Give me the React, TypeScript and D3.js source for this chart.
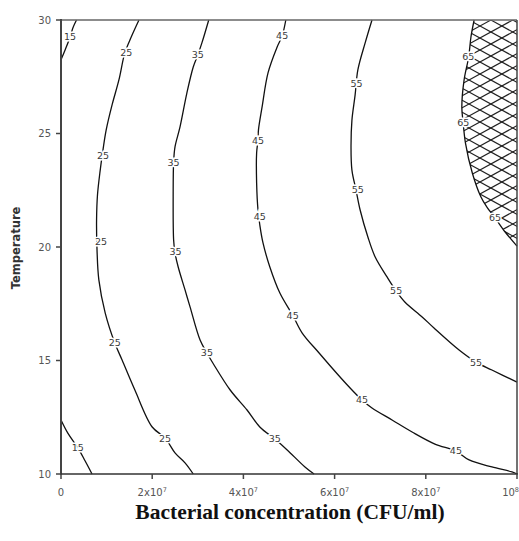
import React, { useEffect } from 'react';
import * as d3 from 'd3';

// Bacterial concentration in units of 10^7 CFU/ml, temperature in °C
const xTicks = [0, 2, 4, 6, 8, 10];
const xTickLabels: [string, string][] = [["0", ""], ["2x10", "7"], ["4x10", "7"], ["6x10", "7"], ["8x10", "7"], ["10", "8"]];
const yTicks = [10, 15, 20, 25, 30];

const contour15a = [[0.34, 30], [0.26, 29.65], [0.2, 29.25], [0.09, 28.68], [0, 28.25]];
const contour15b = [[0, 12.38], [0.15, 11.8], [0.37, 11.15], [0.53, 10.57], [0.68, 10]];
const contour25 = [[1.71, 30], [1.54, 29.25], [1.4, 28.55], [1.27, 27.36], [1.12, 26.26], [0.99, 25.15], [0.92, 24.27], [0.86, 23.39], [0.8, 22.29], [0.78, 21.19], [0.79, 19.87], [0.83, 18.55], [0.97, 17.09], [1.18, 15.77], [1.34, 15.02], [1.62, 13.7], [2.0, 12.07], [2.28, 11.59], [2.5, 10.93], [2.72, 10.49], [2.9, 10]];
const contour35 = [[3.24, 30], [3.09, 28.99], [3.0, 28.46], [2.9, 27.93], [2.76, 26.78], [2.61, 25.29], [2.5, 24.41], [2.47, 23.74], [2.46, 22.38], [2.47, 20.31], [2.5, 19.74], [2.57, 19.12], [2.72, 18.11], [2.83, 17.36], [3.05, 15.9], [3.2, 15.33], [3.33, 14.89], [3.71, 13.7], [4.08, 12.82], [4.36, 12.07], [4.69, 11.54], [4.96, 11.06], [5.35, 10.31], [5.55, 10]];
const contour45 = [[4.93, 30], [4.85, 29.3], [4.74, 28.81], [4.54, 27.67], [4.41, 26.17], [4.33, 25.15], [4.32, 24.71], [4.29, 24.14], [4.29, 22.82], [4.32, 21.63], [4.36, 20.97], [4.43, 20.18], [4.58, 19.12], [4.8, 17.97], [5.09, 16.96], [5.29, 16.21], [5.66, 15.33], [6.08, 14.36], [6.32, 13.83], [6.6, 13.26], [6.82, 12.91], [7.26, 12.38], [7.7, 11.85], [8.2, 11.32], [8.66, 11.01], [8.95, 10.62], [9.45, 10.31], [9.89, 10.09], [10, 10]];
const contour55 = [[6.82, 30], [6.67, 28.99], [6.51, 27.8], [6.45, 26.7], [6.38, 25.59], [6.36, 24.41], [6.38, 23.39], [6.47, 22.51], [6.56, 21.63], [6.73, 20.44], [6.89, 19.56], [7.15, 18.68], [7.35, 18.06], [7.54, 17.58], [7.92, 16.92], [8.18, 16.43], [8.73, 15.46], [9.1, 14.93], [9.45, 14.58], [10, 14.05]];
const contour65 = [[9.06, 30], [8.99, 29.25], [8.94, 28.37], [8.84, 27.36], [8.79, 26.17], [8.82, 25.46], [8.87, 24.58], [9.02, 23.26], [9.21, 22.2], [9.34, 21.76], [9.52, 21.28], [9.74, 20.66], [10, 20.04]];

const contourLines = [contour15a, contour15b, contour25, contour35, contour45, contour55, contour65];

const labelText = ["15", "15", "25", "25", "25", "25", "25", "35", "35", "35", "35", "35", "45", "45", "45", "45", "45", "45", "55", "55", "55", "55", "65", "65", "65"];
const labelPos = [
  [0.2, 29.25], [0.37, 11.15],
  [1.43, 28.55], [0.92, 24.01], [0.88, 20.26], [1.18, 15.77], [2.28, 11.54],
  [3.0, 28.46], [2.47, 23.74], [2.51, 19.78], [3.2, 15.33], [4.69, 11.54],
  [4.85, 29.3], [4.32, 24.71], [4.36, 21.32], [5.08, 16.96], [6.6, 13.26], [8.66, 11.01],
  [6.48, 27.22], [6.51, 22.51], [7.35, 18.06], [9.1, 14.93],
  [8.93, 28.37], [8.82, 25.46], [9.52, 21.28],
];

const SANS = "'DejaVu Sans', Verdana, sans-serif";

export default function App() {
  useEffect(() => { document.body.style.margin = '0'; }, []);
  const x = d3.scaleLinear().domain([0, 10]).range([61, 517]);
  const y = d3.scaleLinear().domain([10, 30]).range([474, 20]);
  const line = d3.line<number[]>().x(d => x(d[0])).y(d => y(d[1])).curve(d3.curveCatmullRom.alpha(0.5));

  const hatchPath = (line(contour65) || '') + `L${x(10)},${y(30)}Z`;
  const offsets = d3.range(-80, 320, 12);
  const slope = 0.55;
  const hx0 = 440, hx1 = 520;

  return (
    <div style={{ position: 'absolute', left: 0, top: 0 }}>
      <svg width={519} height={541} style={{ display: 'block', background: '#fff' }}>
        <defs>
          <clipPath id="hatchClip"><path d={hatchPath} /></clipPath>
        </defs>
        <g clipPath="url(#hatchClip)" stroke="#222" strokeWidth={1.1}>
          {offsets.map((o, i) => (
            <line key={'a' + i} x1={hx0} y1={o} x2={hx1} y2={o + slope * (hx1 - hx0)} />
          ))}
          {offsets.map((o, i) => (
            <line key={'b' + i} x1={hx0} y1={o + slope * (hx1 - hx0)} x2={hx1} y2={o} />
          ))}
        </g>
        {contourLines.map((c, i) => (
          <path key={i} d={line(c) || ''} fill="none" stroke="#111" strokeWidth={1.3} />
        ))}
        {labelPos.map((p, i) => (
          <text key={i} x={x(p[0])} y={y(p[1])} dy="0.36em" textAnchor="middle"
            fontFamily={SANS} fontSize={9.5} fill="#3a3a3a"
            stroke="#fff" strokeWidth={3} paintOrder="stroke">{labelText[i]}</text>
        ))}
        {/* frame */}
        <line x1={61} y1={20} x2={517} y2={20} stroke="#666" strokeWidth={1.5} />
        <line x1={517} y1={20} x2={517} y2={474} stroke="#444" strokeWidth={1.5} />
        <line x1={61} y1={19} x2={61} y2={475} stroke="#444" strokeWidth={2} />
        <line x1={60} y1={474} x2={518} y2={474} stroke="#333" strokeWidth={1.5} />
        {yTicks.map(t => (
          <g key={t}>
            <line x1={56} x2={61} y1={y(t)} y2={y(t)} stroke="#444" strokeWidth={1.5} />
            <text x={51} y={y(t)} dy="0.36em" textAnchor="end" fontFamily={SANS} fontSize={10} fill="#555">{t}</text>
          </g>
        ))}
        {xTicks.map((t, i) => (
          <g key={t}>
            <line x1={x(t)} x2={x(t)} y1={474} y2={479} stroke="#444" strokeWidth={1.5} />
            <text x={i === xTicks.length - 1 ? 519 : x(t)} y={496} textAnchor={i === xTicks.length - 1 ? 'end' : 'middle'}
              fontFamily={SANS} fontSize={10} fill="#555">
              {xTickLabels[i][0]}
              {xTickLabels[i][1] && <tspan dy={-4} fontSize={6.5}>{xTickLabels[i][1]}</tspan>}
            </text>
          </g>
        ))}
        <text transform="translate(20,248) rotate(-90)" textAnchor="middle" fontFamily={SANS} fontWeight="bold" fontSize={11.5} fill="#333">Temperature</text>
        <text x={290} y={519} textAnchor="middle" fontFamily="'Liberation Serif', 'Times New Roman', serif" fontWeight="bold" fontSize={21.5} fill="#111">Bacterial concentration (CFU/ml)</text>
      </svg>
    </div>
  );
}
